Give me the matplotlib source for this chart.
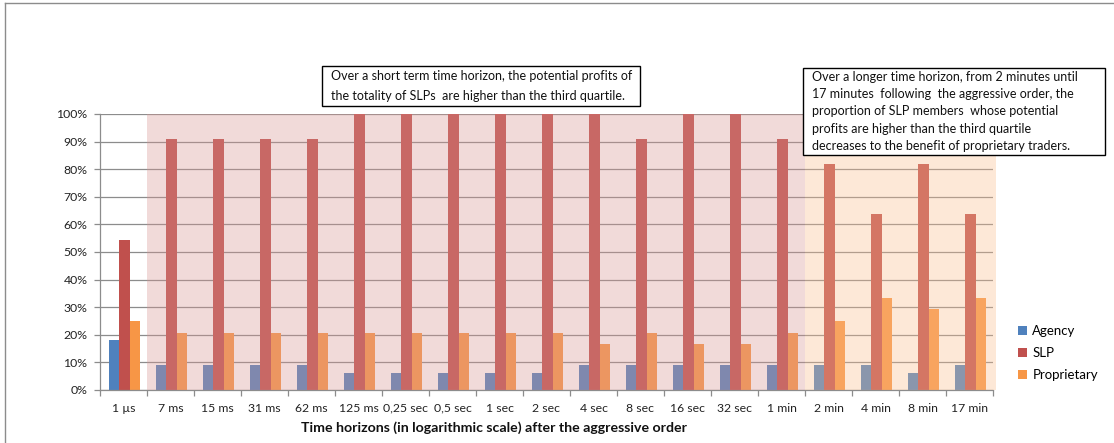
import matplotlib
matplotlib.use("Agg")
import matplotlib.pyplot as plt
import numpy as np
from matplotlib.patches import Rectangle
from matplotlib.lines import Line2D

plt.rcParams['font.family'] = ['Lato', 'DejaVu Sans']

categories = ["1 µs", "7 ms", "15 ms", "31 ms", "62 ms", "125 ms", "0,25 sec", "0,5 sec",
              "1 sec", "2 sec", "4 sec", "8 sec", "16 sec", "32 sec", "1 min",
              "2 min", "4 min", "8 min", "17 min"]
agency = [18.2, 9.1, 9.1, 9.1, 9.1, 6.1, 6.1, 6.1, 6.1, 6.1, 9.1, 9.1, 9.1, 9.1, 9.1,
          9.1, 9.1, 6.1, 9.1]
slp = [54.5, 90.9, 90.9, 90.9, 90.9, 100, 100, 100, 100, 100, 100, 90.9, 100, 100, 90.9,
       81.8, 63.6, 81.8, 63.6]
proprietary = [25.0, 20.8, 20.8, 20.8, 20.8, 20.8, 20.8, 20.8, 20.8, 20.8, 16.7, 20.8, 16.7,
               16.7, 20.8, 25.0, 33.3, 29.2, 33.3]
series_names = ["Agency", "SLP", "Proprietary"]
yticks = [0, 10, 20, 30, 40, 50, 60, 70, 80, 90, 100]
ytick_labels = [f"{v}%" for v in yticks]

W, H = 1114, 443
fig = plt.figure(figsize=(W / 100, H / 100), dpi=100)

def fx(px):
    return px / W

def fy(py):
    return 1 - py / H

ax = fig.add_axes([fx(100), fy(390), fx(993) - fx(100), fy(114) - fy(390)])

x = np.arange(len(categories))
bw = 0.22
colors = ['#4F81BD', '#C0504D', '#F79646']
handles = []
for i, (vals, c, name) in enumerate(zip([agency, slp, proprietary], colors, series_names)):
    b = ax.bar(x + (i - 1) * bw + 0.02, np.array(vals) / 100, width=bw, color=c,
               zorder=2, label=name, linewidth=0)
    handles.append(b)

# shaded regions (semi-transparent overlays)
ax.add_patch(Rectangle((0.5, 0), 14.0, 1.0, facecolor='#D99694', alpha=0.35,
                       zorder=3, linewidth=0))
ax.add_patch(Rectangle((14.5, 0), 4.07, 1.0, facecolor='#FABF8F', alpha=0.35,
                       zorder=3, linewidth=0, clip_on=False))

ax.set_xlim(-0.5, len(categories) - 0.5)
ax.set_ylim(0, 1.0)
ax.set_yticks(np.array(yticks) / 100)
ax.set_yticklabels(ytick_labels, fontsize=8.8, color='#222222')
ax.yaxis.grid(True, color='#8C8C8C', linewidth=0.9, zorder=1)
ax.set_axisbelow(True)

ax.set_xticks(x)
ax.set_xticklabels(categories, fontsize=8.8, color='#222222')
ax.set_xticks(np.arange(-0.5, len(categories) + 0.5, 1), minor=True)
ax.tick_params(axis='x', which='major', length=0, pad=9)
ax.tick_params(axis='x', which='minor', length=4, color='#8C8C8C', width=0.9)
ax.tick_params(axis='y', length=4, color='#8C8C8C', width=0.9, pad=5)

for s in ['top', 'right']:
    ax.spines[s].set_visible(False)
for s in ['left', 'bottom']:
    ax.spines[s].set_color('#8C8C8C')
    ax.spines[s].set_linewidth(0.9)

# x-axis title
fig.text(fx(494), fy(428), "Time horizons (in logarithmic scale) after the aggressive order",
         fontsize=10.2, fontweight='bold', ha='center', va='center', color='#111111')

# annotation boxes
def box(x0, y0, x1, y1, lines):
    r = Rectangle((fx(x0), fy(y1)), fx(x1) - fx(x0), fy(y0) - fy(y1), transform=fig.transFigure,
                  facecolor='white', edgecolor='black', linewidth=1.0, zorder=10)
    fig.add_artist(r)
    n = len(lines)
    lh = (y1 - y0) / n
    for k, t in enumerate(lines):
        fig.text(fx(x0 + 9), fy(y0 + lh * (k + 0.5)), t, fontsize=9, ha='left', va='center',
                 color='#111111', zorder=11)

box(322, 66, 640, 106, ["Over a short term time horizon, the potential profits of",
                        "the totality of SLPs  are higher than the third quartile."])
box(803, 68, 1105, 155, ["Over a longer time horizon, from 2 minutes until",
                         "17 minutes  following  the aggressive order, the",
                         "proportion of SLP members  whose potential",
                         "profits are higher than the third quartile",
                         "decreases to the benefit of proprietary traders."])

# legend
fig.legend(handles=handles, labels=series_names, loc='center left',
           bbox_to_anchor=(fx(1006), fy(353)), frameon=False, fontsize=9.5,
           handlelength=0.7, handleheight=0.7, handletextpad=0.4, labelspacing=0.75)

# chart outer border (left and top)
fig.add_artist(Line2D([fx(5), fx(5)], [fy(3), fy(443)], color='#8C8C8C', linewidth=1,
                      transform=fig.transFigure))
fig.add_artist(Line2D([fx(5), fx(1114)], [fy(3), fy(3)], color='#8C8C8C', linewidth=1,
                      transform=fig.transFigure))

fig.savefig("out.png", dpi=100)
